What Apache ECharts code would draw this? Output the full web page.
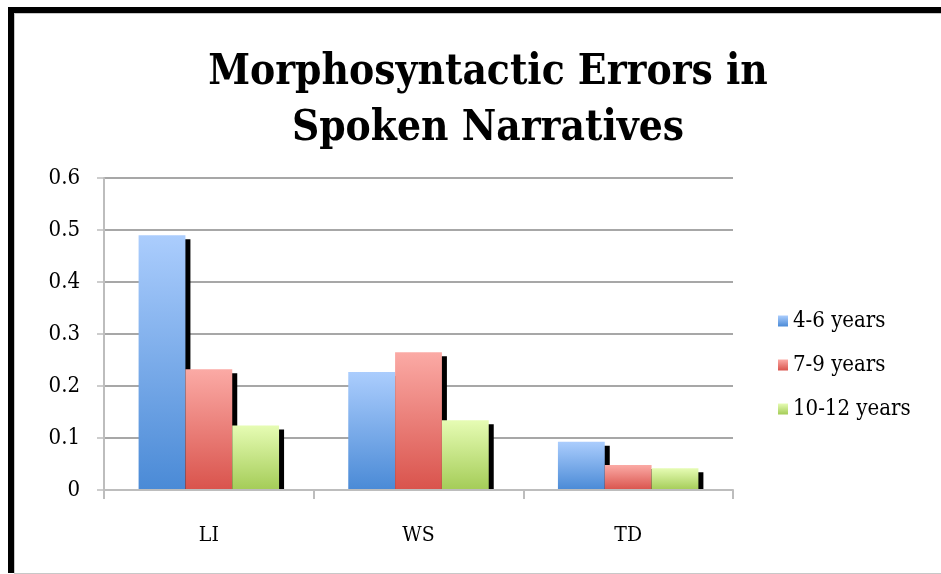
<!DOCTYPE html>
<html>
<head>
<meta charset="utf-8">
<script src="https://cdn.jsdelivr.net/npm/echarts@6/dist/echarts.min.js"></script>
<style>
  html, body { margin: 0; padding: 0; background: #fff; }
  #chart { position: absolute; left: 0; top: 0; width: 941px; height: 574px; }
  /* black frame of the original screenshot */
  #frame {
    position: absolute; left: 8px; top: 7px; width: 933px; height: 566px;
    border-top: 6px solid #000; border-left: 6px solid #000;
    box-sizing: border-box; pointer-events: none;
  }
  #inner {
    position: absolute; left: 14px; top: 13px; width: 927px; height: 561px;
    border-top: 1px solid #c8c8c8; border-left: 1px solid #c8c8c8; border-bottom: 1px solid #c8c8c8;
    box-sizing: border-box; pointer-events: none;
  }
</style>
</head>
<body>
<div id="chart"></div>
<div id="frame"></div>
<div id="inner"></div>
<script>
"use strict";

// data
const groups = ['LI', 'WS', 'TD'];
const seriesNames = ['4-6 years', '7-9 years', '10-12 years'];
const age4to6 = [0.49, 0.227, 0.093];
const age7to9 = [0.232, 0.265, 0.048];
const age10to12 = [0.124, 0.134, 0.042];

const serif = '"DejaVu Serif Condensed", "Liberation Serif", serif';

function grad(top, bottom) {
  return new echarts.graphic.LinearGradient(0, 0, 0, 1, [
    { offset: 0, color: top },
    { offset: 1, color: bottom }
  ]);
}

function barSeries(name, data, top, bottom) {
  return {
    name: name,
    type: 'bar',
    data: data,
    barGap: '0%',
    barCategoryGap: '33%',
    itemStyle: {
      color: grad(top, bottom),
      shadowColor: '#000',
      shadowBlur: 0,
      shadowOffsetX: 5,
      shadowOffsetY: 4
    },
    emphasis: { disabled: true }
  };
}

var chart = echarts.init(document.getElementById('chart'));
chart.setOption({
  backgroundColor: '#fff',
  animation: false,
  title: {
    text: 'Morphosyntactic Errors in\nSpoken Narratives',
    left: 483,
    textAlign: 'center',
    top: 40,
    textStyle: {
      fontFamily: serif,
      fontWeight: 'bold',
      fontSize: 42,
      lineHeight: 56,
      color: '#000'
    }
  },
  legend: {
    orient: 'vertical',
    left: 773,
    top: 305,
    itemWidth: 10,
    itemHeight: 11,
    itemGap: 22,
    icon: 'rect',
    data: seriesNames,
    textStyle: {
      fontFamily: serif,
      fontSize: 22,
      color: '#000'
    }
  },
  grid: {
    left: 104,
    right: 208,
    top: 178,
    bottom: 84
  },
  xAxis: {
    type: 'category',
    data: groups,
    z: 60,
    axisLine: { lineStyle: { color: '#bdbdbd', width: 2 } },
    axisTick: { show: true, length: 9, lineStyle: { color: '#bdbdbd', width: 2 } },
    axisLabel: {
      margin: 35,
      fontFamily: serif,
      fontSize: 21,
      color: '#000'
    }
  },
  yAxis: {
    type: 'value',
    min: 0,
    max: 0.6,
    interval: 0.1,
    axisLine: { show: true, lineStyle: { color: '#bdbdbd', width: 2 } },
    axisTick: { show: true, length: 7, lineStyle: { color: '#bdbdbd', width: 1.5 } },
    splitLine: { lineStyle: { color: '#8a8a8a', width: 1.5 } },
    axisLabel: {
      margin: 24,
      fontFamily: serif,
      fontSize: 22,
      color: '#000',
      formatter: function (v) { return v === 0 ? '0' : v.toFixed(1); }
    }
  },
  // hides the part of the bar shadows that falls under the axis
  graphic: [{
    type: 'rect',
    z: 50,
    shape: { x: 100, y: 491, width: 645, height: 6 },
    style: { fill: '#fff' }
  }],
  series: [
    barSeries(seriesNames[0], age4to6, '#abcdfd', '#4a8ad6'),
    barSeries(seriesNames[1], age7to9, '#fbaaa5', '#d9534c'),
    barSeries(seriesNames[2], age10to12, '#e6fcb4', '#a4cc57')
  ]
});
</script>
</body>
</html>
